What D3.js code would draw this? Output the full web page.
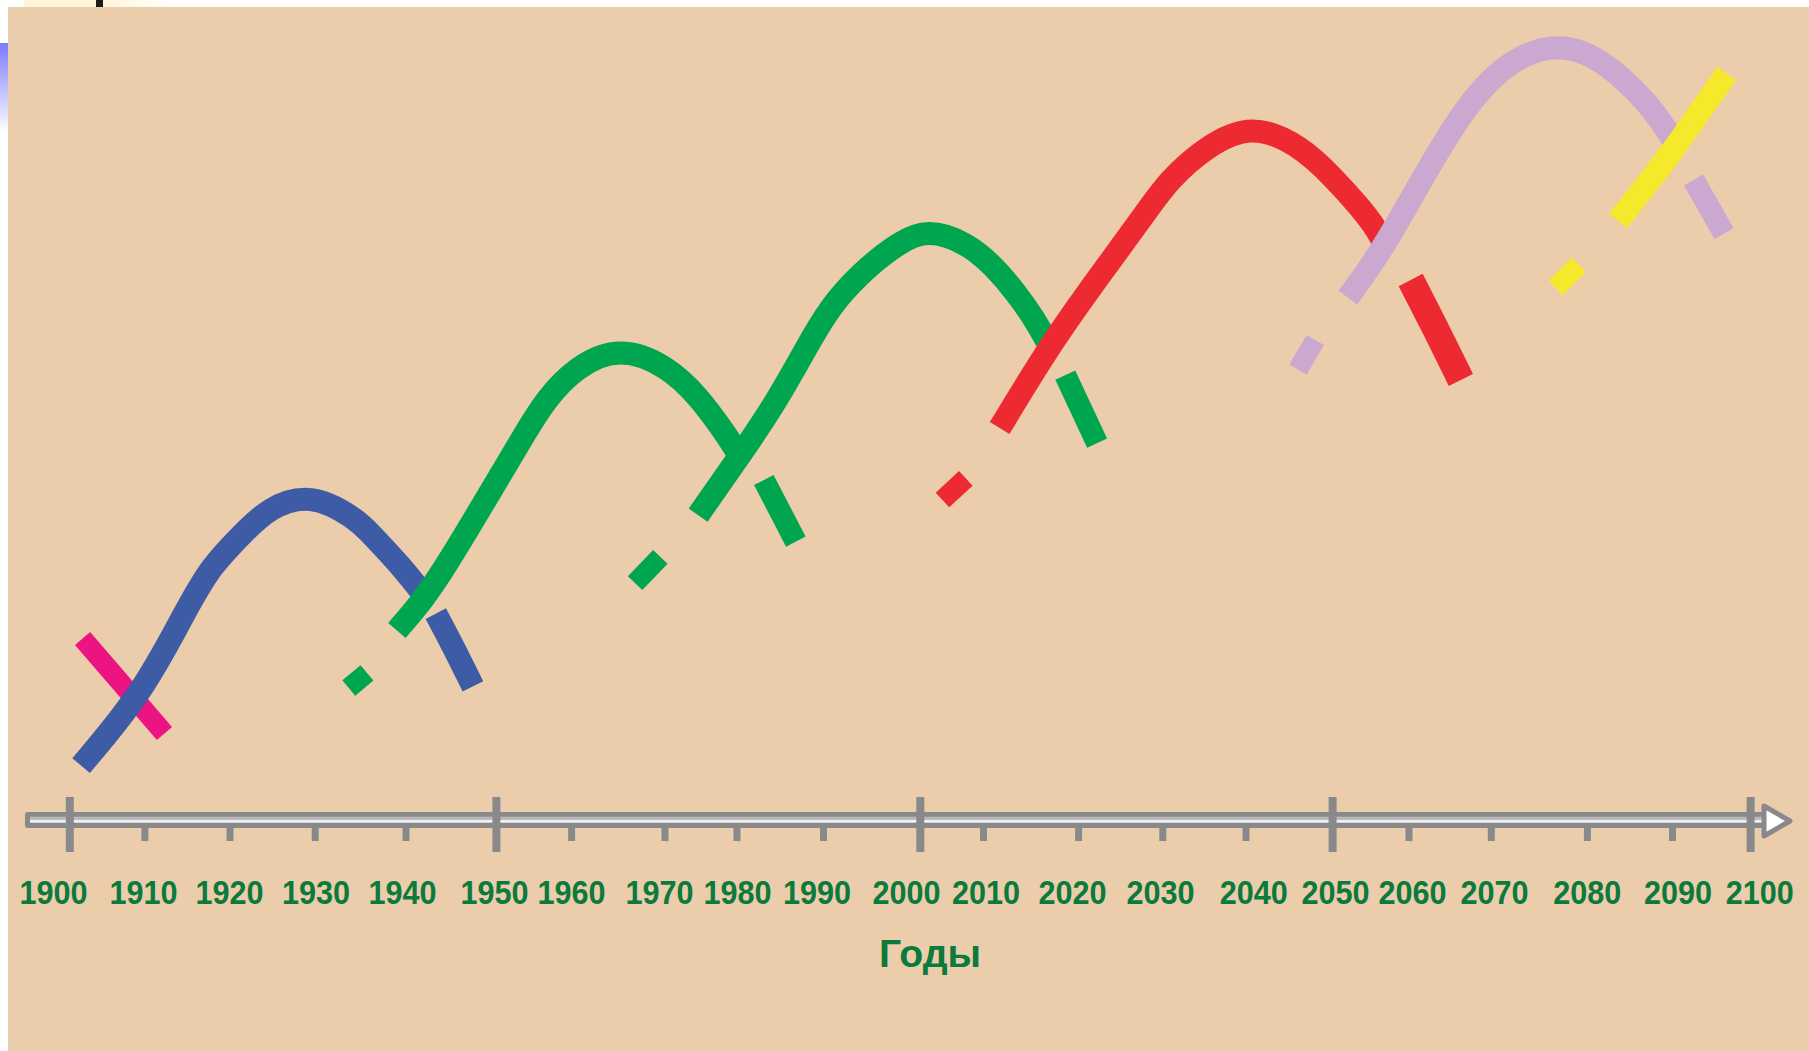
<!DOCTYPE html>
<html>
<head>
<meta charset="utf-8">
<script src="https://cdn.jsdelivr.net/npm/d3@7"></script>
<style>
body { margin: 0; background: #fff; }
svg { display: block; }
</style>
</head>
<body>
<div id="content"></div>
<script>
// years on the time axis
var tickYears  = [1900,1910,1920,1930,1940,1950,1960,1970,1980,1990,2000,2010,2020,2030,2040,2050,2060,2070,2080,2090,2100];
var majorYears = [1900,1950,2000,2050,2100];
var axisTitle  = 'Годы';

// waves, points are [year, level]
var pinkTail   = [[1901.7,22.7],[1912.3,10.8]];
var blueMain   = [[1901.5,6.8],[1909.6,15.8],[1914.6,25.8],[1917.7,31.7],[1921.5,35.8],[1924.5,39.0],[1929.4,40.9],[1934.5,37.7],[1936.1,35.8],[1939.5,31.7],[1942.2,27.8]];
var blueTail   = [[1943.3,25.8],[1945.4,21.3],[1947.4,16.7]];
var green1Dot  = [[1933.7,16.5],[1935.7,18.4]];
var green1Main = [[1939.0,23.7],[1941.9,27.5],[1944.4,31.7],[1948.8,40.0],[1951.2,44.2],[1953.8,48.3],[1956.5,52.5],[1960.5,56.7],[1965.2,59.2],[1970.4,56.7],[1974.7,52.9],[1978.4,48.3],[1980.6,45.0]];
var green1Tail = [[1983.1,42.5],[1986.8,34.8]];
var green2Dot  = [[1966.8,29.6],[1969.5,32.9]];
var green2Main = [[1974.6,38.1],[1980.5,45.8],[1984.7,52.5],[1988.9,60.8],[1991.2,65.0],[1994.6,69.2],[1997.7,72.1],[2001.1,73.9],[2007.5,72.1],[2011.1,69.2],[2013.5,65.8],[2015.2,62.9],[2016.4,60.4],[2017.0,59.1]];
var green2Tail = [[2018.6,55.6],[2022.2,47.1]];
var redDot     = [[2003.5,40.0],[2007.2,42.7]];
var redMain    = [[2011.7,49.0],[2017.1,59.6],[2022.4,67.9],[2027.9,75.8],[2030.7,80.0],[2035.2,84.2],[2040.7,87.1],[2046.4,84.2],[2050.0,80.4],[2053.5,76.7],[2055.5,74.2],[2056.5,72.5]];
var redTail    = [[2060.2,67.5],[2063.3,61.3],[2066.3,55.0]];
var purpleDot  = [[2046.0,56.3],[2048.0,60.0]];
var purpleMain = [[2052.0,65.3],[2056.2,70.8],[2060.6,78.3],[2063.4,83.3],[2066.7,88.8],[2070.4,93.3],[2073.5,95.8],[2076.9,96.9],[2080.4,95.8],[2084.0,92.9],[2087.1,89.6],[2089.3,86.3],[2090.2,84.8]];
var purpleTail = [[2092.7,80.0],[2096.6,73.3]];
var yellowDot  = [[2076.7,66.5],[2079.1,69.4]];
var yellowMain = [[2083.6,74.9],[2089.6,82.9],[2096.9,93.3]];

var W = 1809, H = 1051;
var bg        = '#eccdab';
var axisGray  = '#89898c';
var textGreen = '#0b7a3c';
var blue = '#3e5ba6', pink = '#ec1382', green = '#00a54f', red = '#ed2a31', purple = '#cba8d0', yellow = '#f6e92c';

var svg = d3.select('#content').append('svg')
    .attr('width', W)
    .attr('height', H);

// the time axis in the picture is hand drawn, so the scale is piecewise
var x = d3.scaleLinear()
    .domain(tickYears)
    .range([69.8,144.9,230,315.2,406,496.4,571.6,665,737,823.5,920.3,983.5,1078.6,1162.8,1246,1332.6,1409,1491.3,1587.4,1672.5,1750.6]);
var xLab = d3.scaleLinear()
    .domain(tickYears)
    .range([53,143,229,315.5,402,494,571,659,737,816.4,906,985.6,1071.9,1160,1253.2,1335,1411.9,1494,1586.7,1677.5,1759.3]);
var y = d3.scaleLinear().domain([0, 100]).range([820, 20]);

//gradients for the bits of slide frame
var defs = svg.append('defs');
var g1 = defs.append('linearGradient').attr('id','topStrip').attr('x1',0).attr('x2',1).attr('y1',0).attr('y2',0);
g1.append('stop').attr('offset','0%').attr('stop-color','#fff6d8');
g1.append('stop').attr('offset','55%').attr('stop-color','#fff6d8');
g1.append('stop').attr('offset','100%').attr('stop-color','#ffffff');
var g2 = defs.append('linearGradient').attr('id','leftStrip').attr('x1',0).attr('x2',0).attr('y1',0).attr('y2',1);
g2.append('stop').attr('offset','0%').attr('stop-color','#7a7aff');
g2.append('stop').attr('offset','100%').attr('stop-color','#ffffff');

svg.append('rect').attr('x',24).attr('y',0).attr('width',145).attr('height',7).attr('fill','url(#topStrip)');
svg.append('rect').attr('x',96).attr('y',0).attr('width',7).attr('height',7).attr('fill','#1c1c1c');
svg.append('rect').attr('x',0).attr('y',43).attr('width',8).attr('height',90).attr('fill','url(#leftStrip)');
svg.append('rect').attr('x',8).attr('y',7).attr('width',W-8).attr('height',H-7).attr('fill',bg);

//axis tube
var axisY = y(0);
svg.append('rect').attr('x',25).attr('y',axisY-8).attr('width',1741).attr('height',16).attr('rx',3).attr('fill',axisGray);
svg.append('rect').attr('x',30).attr('y',axisY-3.3).attr('width',1738).attr('height',3.3).attr('fill','#b9b9bb');
svg.append('rect').attr('x',30).attr('y',axisY).attr('width',1738).attr('height',2.7).attr('fill','#f1f1f1');

//arrow head
svg.append('polygon')
    .attr('points', '1764,806 1790,821 1764,836')
    .attr('fill','#ffffff')
    .attr('stroke',axisGray)
    .attr('stroke-width',5)
    .attr('stroke-linejoin','round');

//ticks
var minorYears = tickYears.filter(function(d){ return majorYears.indexOf(d) == -1; });
svg.selectAll('.minor').data(minorYears).enter().append('rect')
    .attr('class','minor')
    .attr('x', function(d){ return x(d) - 3.5; })
    .attr('y', axisY + 6)
    .attr('width', 7)
    .attr('height', 15)
    .attr('fill', axisGray);
svg.selectAll('.major').data(majorYears).enter().append('rect')
    .attr('class','major')
    .attr('x', function(d){ return x(d) - 4; })
    .attr('y', axisY - 23)
    .attr('width', 8)
    .attr('height', 55)
    .attr('fill', axisGray);

//tick labels
var labels = svg.append('g')
    .attr('transform','translate(0,904)')
    .call(d3.axisBottom(xLab).tickValues(tickYears).tickFormat(d3.format('d')).tickSize(0).tickPadding(0));
labels.select('.domain').remove();
labels.attr('font-family','"Liberation Sans", Arial, sans-serif').attr('font-size',34).attr('font-weight','bold');
labels.selectAll('text')
    .attr('y',0).attr('dy',0)
    .attr('fill',textGreen)
    .attr('textLength',68)
    .attr('lengthAdjust','spacingAndGlyphs');

svg.append('text')
    .text(axisTitle)
    .attr('x',930).attr('y',967)
    .attr('text-anchor','middle')
    .attr('font-family','"Liberation Sans", Arial, sans-serif')
    .attr('font-size',39)
    .attr('font-weight','bold')
    .attr('fill',textGreen)
    .attr('textLength',102)
    .attr('lengthAdjust','spacingAndGlyphs');

//waves, later ones lie over earlier ones
var strokes = [
    {pts: pinkTail,   color: pink,   w: 20},
    {pts: blueMain,   color: blue,   w: 23},
    {pts: blueTail,   color: blue,   w: 23},
    {pts: green1Dot,  color: green,  w: 20},
    {pts: green1Main, color: green,  w: 23},
    {pts: green1Tail, color: green,  w: 22},
    {pts: green2Dot,  color: green,  w: 20},
    {pts: green2Main, color: green,  w: 23},
    {pts: green2Tail, color: green,  w: 22},
    {pts: redDot,     color: red,    w: 20},
    {pts: redMain,    color: red,    w: 23},
    {pts: redTail,    color: red,    w: 27},
    {pts: purpleDot,  color: purple, w: 20},
    {pts: purpleMain, color: purple, w: 23},
    {pts: purpleTail, color: purple, w: 22},
    {pts: yellowDot,  color: yellow, w: 20},
    {pts: yellowMain, color: yellow, w: 23}
];

var line = d3.line()
    .x(function(d){ return x(d[0]); })
    .y(function(d){ return y(d[1]); })
    .curve(d3.curveBasis);

svg.append('g').selectAll('path').data(strokes).enter().append('path')
    .attr('d', function(d){ return line(d.pts); })
    .attr('fill','none')
    .attr('stroke', function(d){ return d.color; })
    .attr('stroke-width', function(d){ return d.w; })
    .attr('stroke-linecap','butt')
    .attr('stroke-linejoin','round');
</script>
</body>
</html>
